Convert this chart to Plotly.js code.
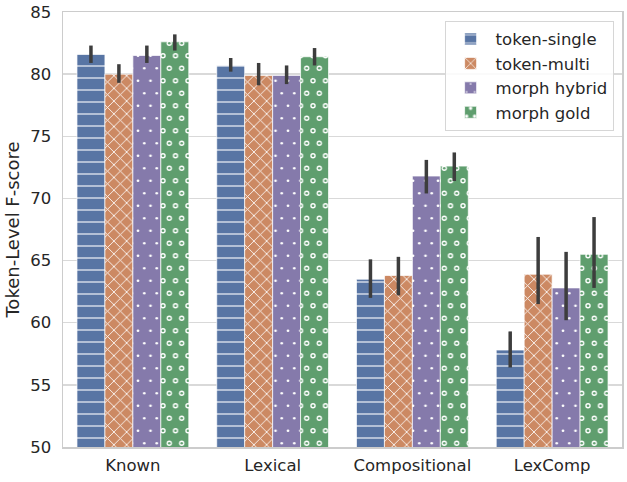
<!DOCTYPE html>
<html>
<head>
<meta charset="utf-8">
<script src="https://cdn.plot.ly/plotly-3.0.1.min.js"></script>
<style>
  body { margin: 0; background: #fff; }
  #chart { width: 627px; height: 482px; }
</style>
</head>
<body>
<div id="chart"></div>
<script>
const categories = ['Known', 'Lexical', 'Compositional', 'LexComp'];
const seriesNames = ['token-single', 'token-multi', 'morph hybrid', 'morph gold'];

// mean F-score per category
const tokenSingle = [81.6, 80.7, 63.5, 57.8];
const tokenMulti = [80.0, 79.9, 63.8, 63.9];
const morphHybrid = [81.5, 79.9, 71.8, 62.8];
const morphGold = [82.6, 81.4, 72.6, 65.5];

// confidence interval ends
const tokenSingleHi = [82.3, 81.3, 65.1, 59.3];
const tokenSingleLo = [80.9, 80.2, 62.0, 56.4];
const tokenMultiHi = [80.8, 80.9, 65.3, 66.9];
const tokenMultiLo = [79.3, 79.1, 62.2, 61.5];
const morphHybridHi = [82.3, 80.7, 73.1, 65.7];
const morphHybridLo = [80.9, 79.2, 70.4, 60.2];
const morphGoldHi = [83.2, 82.1, 73.7, 68.5];
const morphGoldLo = [81.9, 80.7, 71.4, 62.8];

const colors = ['#5875a4', '#cc8963', '#857aab', '#5f9e6e'];

function errBar(vals, hi, lo) {
    return {
        type: 'data',
        symmetric: false,
        array: hi.map((h, i) => h - vals[i]),
        arrayminus: lo.map((l, i) => vals[i] - l),
        color: '#3d3d3d',
        thickness: 3.5,
        width: 0
    };
}

function barTrace(name, vals, color, pattern, group, err) {
    let t = {
        type: 'bar',
        name: name,
        x: categories,
        y: vals,
        offsetgroup: group,
        marker: {
            color: color,
            line: { color: 'rgba(255,255,255,0.7)', width: 1 },
            pattern: Object.assign({ bgcolor: color, fillmode: 'replace' }, pattern)
        },
        hoverinfo: 'skip'
    };
    if (err) t.error_y = err;
    return t;
}

let data = [
    barTrace(seriesNames[0], tokenSingle, colors[0],
        { shape: '-', fgcolor: 'rgba(255,255,255,0.65)', size: 12, solidity: 0.14 }, 'a',
        errBar(tokenSingle, tokenSingleHi, tokenSingleLo)),
    barTrace(seriesNames[1], tokenMulti, colors[1],
        { shape: 'x', fgcolor: '#ffffff', size: 9, solidity: 0.18 }, 'b',
        errBar(tokenMulti, tokenMultiHi, tokenMultiLo)),
    barTrace(seriesNames[2], morphHybrid, colors[2],
        { shape: '.', fgcolor: '#ffffff', size: 12.5, solidity: 0.036 }, 'c',
        errBar(morphHybrid, morphHybridHi, morphHybridLo)),
    barTrace(seriesNames[3], morphGold, colors[3],
        { shape: '.', fgcolor: '#ffffff', size: 12.5, solidity: 0.145 }, 'd', null)
];

// inner dots on top of the white ones make the rings of morph gold
let rings = barTrace(seriesNames[3], morphGold, 'rgba(0,0,0,0)',
    { shape: '.', fgcolor: colors[3], size: 12.5, solidity: 0.035 }, 'd',
    errBar(morphGold, morphGoldHi, morphGoldLo));
rings.showlegend = false;
rings.marker.line = { width: 0 };
data.push(rings);

const layout = {
    width: 627,
    height: 482,
    margin: { l: 63, r: 5, t: 12, b: 35 },
    paper_bgcolor: '#ffffff',
    plot_bgcolor: '#ffffff',
    font: { family: 'DejaVu Sans', size: 16.5, color: '#262626' },
    barmode: 'group',
    bargap: 0.2,
    bargroupgap: 0,
    showlegend: true,
    xaxis: {
        range: [-0.5, 3.5],
        showgrid: false,
        showline: true,
        linecolor: '#cccccc',
        linewidth: 1.5,
        mirror: true,
        ticks: 'outside',
        ticklen: 3,
        tickcolor: 'rgba(0,0,0,0)',
        tickfont: { size: 16.5 },
        zeroline: false
    },
    yaxis: {
        range: [50, 85],
        dtick: 5,
        showgrid: true,
        gridcolor: '#d9d9d9',
        gridwidth: 1.5,
        showline: true,
        linecolor: '#cccccc',
        linewidth: 1.5,
        mirror: true,
        ticks: 'outside',
        ticklen: 7,
        tickcolor: 'rgba(0,0,0,0)',
        tickfont: { size: 16.5 },
        zeroline: false,
        title: { text: 'Token-Level F-score', font: { size: 18 }, standoff: 6 }
    },
    legend: {
        x: 0.985,
        y: 0.98,
        xanchor: 'right',
        yanchor: 'top',
        bgcolor: 'rgba(255,255,255,0.85)',
        bordercolor: '#d6d6d6',
        borderwidth: 1,
        font: { size: 16.5 },
        itemwidth: 40,
        tracegroupgap: 0
    }
};

// seaborn's dot hatches sit on a staggered grid: add a shifted dot row to each dot tile
function staggerDots(gd) {
    gd.querySelectorAll('pattern').forEach(p => {
        const c = p.querySelector('circle');
        if (!c || p.dataset.staggered) return;
        const w = parseFloat(p.getAttribute('width'));
        p.setAttribute('height', 2 * w);
        p.querySelectorAll('rect').forEach(r => r.setAttribute('height', 2 * w));
        [0, w].forEach(cx => {
            const d = c.cloneNode();
            d.setAttribute('cx', cx);
            d.setAttribute('cy', 1.5 * w);
            p.appendChild(d);
        });
        p.dataset.staggered = '1';
    });
}

Plotly.newPlot('chart', data, layout, { displayModeBar: false, staticPlot: true })
    .then(gd => staggerDots(gd));
</script>
</body>
</html>
